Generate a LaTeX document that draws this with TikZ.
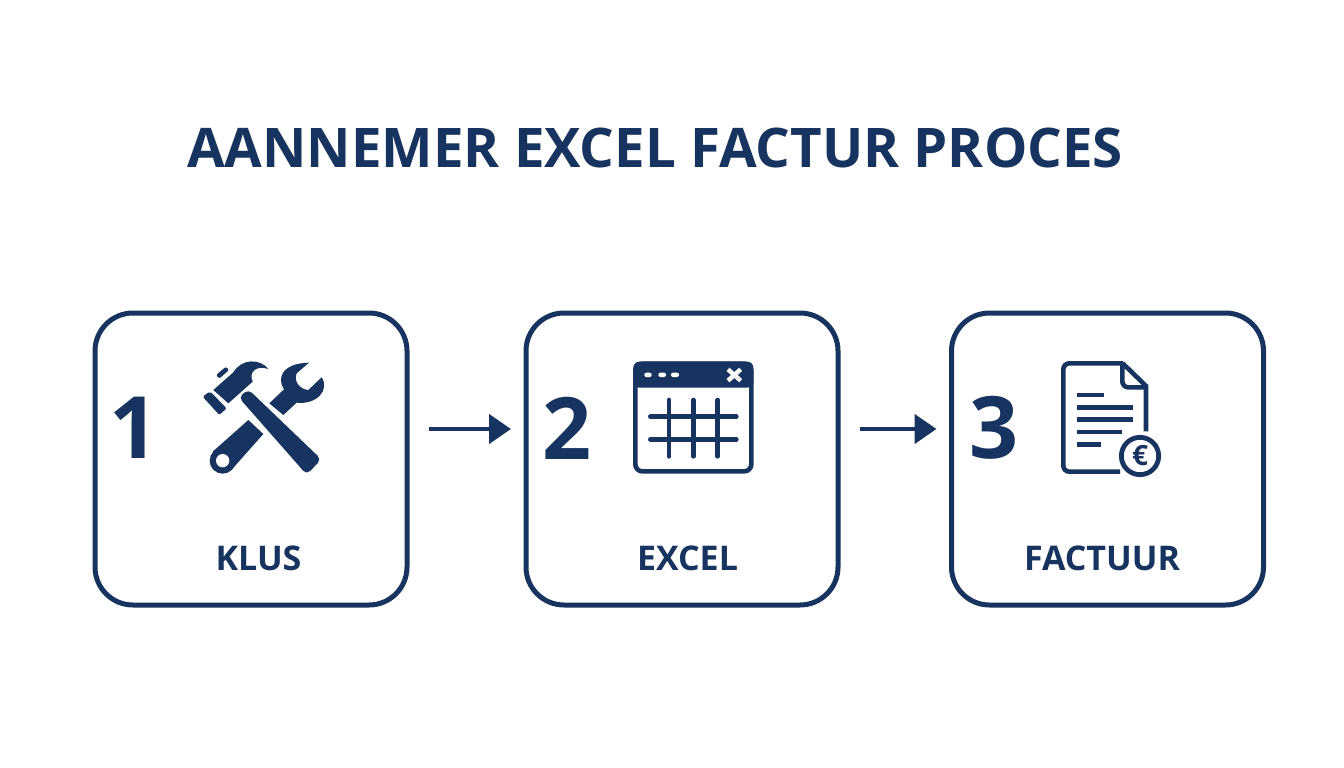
\documentclass[tikz,border=0pt]{standalone}
\usepackage{fontspec}
\setmainfont{Open Sans}[BoldFont={* Bold}]
\usetikzlibrary{arrows.meta}
\definecolor{navy}{HTML}{17335F}
\tikzset{
  box/.style={draw=navy,line width=5pt,rounded corners=38pt,minimum width=312pt,minimum height=292pt,inner sep=0pt,outer sep=0pt,fill=white},
  arr/.style={draw=navy,line width=4.6pt,-{Triangle[length=22pt,width=29pt]},shorten <=22pt,shorten >=15pt},
  title/.style={text=navy,font=\fontsize{54.6}{58}\selectfont\bfseries,inner sep=0pt},
  num/.style={text=navy,font=\fontsize{86}{90}\selectfont\bfseries,inner sep=0pt},
  lab/.style={text=navy,font=\fontsize{34}{38}\selectfont\bfseries,inner sep=0pt},
  ink/.style={fill=navy,draw=none},
  ic/.style={x=0.33333pt,y=-0.33333pt},
  thin line/.style={draw=navy,line width=4.6pt,line cap=round},
  flat line/.style={draw=navy,line width=4.6pt,line cap=butt}
}
\begin{document}
\begin{tikzpicture}[x=1pt,y=-1pt]
\useasboundingbox[fill=white] (0,0) rectangle (1344,768);
\node[title] (t) at (655,147.5) {AANNEMER EXCEL FACTUR PROCES};
\node[box] (b1) at (251,459) {};
\node[box] (b2) at (682,459) {};
\node[box] (b3) at (1107.5,459) {};
\draw[arr] ([yshift=30pt]b1.east) -- ([yshift=30pt]b2.west);
\draw[arr] ([yshift=30pt]b2.east) -- ([yshift=30pt]b3.west);
\node[num] (n1) at (134,428) {1};
\node[num] (n2) at (567,428) {2};
\node[num] (n3) at (994,428) {3};
\node[lab] (l1) at (258.5,558) {KLUS};
\node[lab] (l2) at (687.5,558) {EXCEL};
\node[lab] (l3) at (1102,558) {FACTUUR};
% hammer and wrench
\begin{scope}[shift={(100,340)},ic]
  \fill[ink,rounded corners=5pt] (416,172) -- (445,148) -- (664,358) -- (620,404) -- cycle;
  \fill[ink] (445,240) -- (490,282) -- (395,389) -- (338,335) -- cycle;
  \fill[ink] (368,362) circle (39);
  \fill[white] (368,362) circle (20);
  \fill[ink] (508,190) -- (552,148) .. controls (530,115) and (545,70) .. (627,68)
     -- (590,100) .. controls (580,125) and (600,148) .. (625,150) -- (665,112)
     .. controls (690,150) and (650,195) .. (590,188) -- (550,225) -- cycle;
  \fill[ink] (340,150) -- (400,97) .. controls (425,55) and (480,55) .. (505,87)
     .. controls (470,75) and (445,95) .. (458,125) -- (385,190) -- cycle;
  \fill[ink,rounded corners=2pt] (308,170) -- (330,154) -- (380,205) -- (358,225) -- cycle;
  \fill[ink,rounded corners=2pt] (348,105) -- (378,80) -- (387,90) -- (358,116) -- cycle;
\end{scope}
% spreadsheet window
\begin{scope}[shift={(530,340)},ic]
  \draw[navy,line width=4.6pt,rounded corners=7pt] (316,71) rectangle (664,394);
  \fill[ink,rounded corners=6pt] (310,65) -- (670,65) -- (670,143) -- (310,143) -- cycle;
  \foreach \a/\b in {343/365,385/408,423/447}
    \fill[white,rounded corners=2pt] (\a,98) rectangle (\b,111);
  \draw[white,line width=4.4pt] (594,88) -- (632,122) (632,88) -- (594,122);
  \foreach \x in {417,490,563} \draw[thin line] (\x,180) -- (\x,349);
  \foreach \y in {230,298} \draw[thin line] (361,\y) -- (619,\y);
\end{scope}
% invoice document
\begin{scope}[shift={(960,340)},ic]
  \draw[navy,line width=4.6pt,rounded corners=6pt] (480,395) -- (310,395) -- (310,70) -- (490,70);
  \draw[navy,line width=4.6pt] (488,70) -- (558,138) -- (558,274);
  \draw[navy,line width=4.6pt,rounded corners=6pt] (487,72) -- (487,142) -- (558,142);
  \foreach \y/\e in {165/432,202/520,239/520,276/487,313/423}
    \draw[flat line] (350,\y) -- (\e,\y);
  \draw[navy,line width=4.8pt,fill=white] (540,348) circle (56);
  \node[text=navy,font=\fontsize{28}{30}\selectfont\bfseries,inner sep=0pt] (eur) at (540,348) {€};
\end{scope}
\end{tikzpicture}
\end{document}
